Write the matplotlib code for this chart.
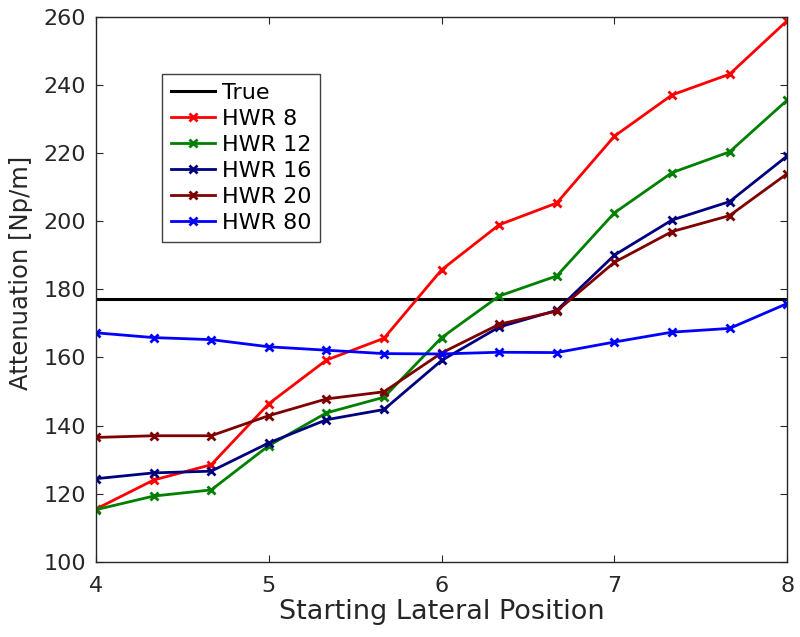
import matplotlib
matplotlib.use("Agg")
import matplotlib.pyplot as plt
import numpy as np

plt.rcParams['font.family'] = ['DejaVu Sans']

# starting lateral positions (13 points, step 1/3)
x = np.linspace(4, 8, 13)
true_val = 177.0

hwr8 = [115.5, 124.0, 128.5, 146.4, 159.2, 165.6, 185.7, 198.9, 205.3, 224.9, 237.0, 243.1, 258.8]
hwr12 = [115.3, 119.3, 121.1, 134.1, 143.7, 148.3, 165.8, 178.0, 183.9, 202.4, 214.2, 220.3, 235.5]
hwr16 = [124.4, 126.1, 126.6, 134.9, 141.7, 144.7, 159.1, 168.9, 173.8, 190.0, 200.3, 205.7, 219.1]
hwr20 = [136.5, 137.0, 137.0, 142.9, 147.8, 149.9, 161.3, 169.7, 173.6, 187.9, 196.9, 201.6, 213.9]
hwr80 = [167.2, 165.8, 165.2, 163.1, 162.1, 161.1, 161.0, 161.5, 161.4, 164.5, 167.4, 168.5, 175.8]

labels = ["HWR 8", "HWR 12", "HWR 16", "HWR 20", "HWR 80"]
colors = ["#ff0000", "#008000", "#00007f", "#7f0000", "#0000ff"]
series = [hwr8, hwr12, hwr16, hwr20, hwr80]

fig = plt.figure(figsize=(8, 6.37), dpi=100)
ax = fig.add_axes([0.12, 0.118, 0.864, 0.856])

ax.axhline(true_val, color="black", lw=2.2, label="True")
for y, c, lab in zip(series, colors, labels):
    ax.plot(x, y, color=c, lw=2, marker="x", ms=6, mew=2, label=lab)

ax.set_xlim(4, 8)
ax.set_ylim(100, 260)
ax.set_xticks([4, 5, 6, 7, 8])
ax.set_yticks(np.arange(100, 261, 20))
ax.tick_params(direction="in", length=5, labelsize=16, colors="#262626",
               top=True, right=True, labeltop=False, labelright=False)
ax.tick_params(axis="x", pad=10)
ax.tick_params(axis="y", pad=7)
for s in ax.spines.values():
    s.set_color("#262626")
    s.set_linewidth(1)

ax.set_xlabel("Starting Lateral Position", fontsize=19.5, color="#262626", labelpad=2)
ax.set_ylabel("Attenuation [Np/m]", fontsize=17.5, color="#262626")
ax.yaxis.set_label_coords(-0.091, 0.53)

leg = ax.legend(loc="upper left", bbox_to_anchor=(0.095, 0.894), borderaxespad=0,
                fontsize=16, numpoints=1, handlelength=2.0, fancybox=False,
                framealpha=1, edgecolor="#404040", labelspacing=0.27,
                handletextpad=0.3, borderpad=0.4)

fig.savefig("out.png", dpi=100)
